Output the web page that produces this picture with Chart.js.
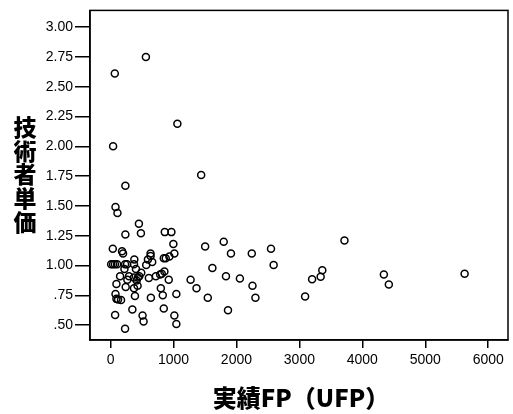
<!DOCTYPE html>
<html>
<head>
<meta charset="utf-8">
<script src="https://cdn.jsdelivr.net/npm/chart.js@4/dist/chart.umd.min.js"></script>
<style>
  body { margin: 0; background: #fff; }
</style>
</head>
<body>
<canvas id="scatter" width="513" height="414"></canvas>
<script>
const fpValues = [
  562, 68, 1062, 41, 1440, 236, 79, 110, 451, 236,
  483, 862, 967, 36, 183, 199, 998, 1014, 846, 877,
  935, 636, 636, 594, 662, 567, 378, 373, 10, 40,
  70, 105, 231, 262, 404, 488, 221, 152, 294, 373,
  436, 457, 268, 415, 430, 609, 720, 788, 814, 856,
  925, 94, 241, 373, 799, 79, 94, 120, 167, 388,
  641, 830, 1046, 1272, 1366, 1545, 1503, 1618, 1798, 1913,
  1834, 2055, 1866, 2244, 2255, 2302, 2549, 2591, 73, 347,
  509, 525, 846, 1014, 1046, 231, 3716, 3364, 3338, 3202,
  3091, 4342, 4421, 5625
];
const unitPrices = [
  2.75, 2.61, 2.19, 2.00, 1.76, 1.67, 1.49, 1.44, 1.35, 1.26,
  1.27, 1.28, 1.28, 1.14, 1.12, 1.10, 1.18, 1.10, 1.06, 1.06,
  1.075, 1.10, 1.08, 1.05, 1.03, 1.005, 1.05, 1.01, 1.01, 1.01,
  1.01, 1.01, 1.01, 1.01, 0.97, 0.94, 0.97, 0.91, 0.91, 0.90,
  0.90, 0.91, 0.88, 0.875, 0.83, 0.895, 0.91, 0.925, 0.93, 0.95,
  0.88, 0.845, 0.82, 0.81, 0.81, 0.76, 0.72, 0.715, 0.71, 0.745,
  0.73, 0.75, 0.76, 0.88, 0.81, 0.73, 1.16, 0.98, 1.20, 1.10,
  0.91, 0.89, 0.625, 1.10, 0.83, 0.73, 1.14, 1.005, 0.585, 0.63,
  0.58, 0.53, 0.64, 0.58, 0.51, 0.47, 1.21, 0.96, 0.905, 0.885,
  0.74, 0.925, 0.84, 0.93
];
const xTicks = [0, 1000, 2000, 3000, 4000, 5000, 6000];
const yTicks = [0.5, 0.75, 1.0, 1.25, 1.5, 1.75, 2.0, 2.25, 2.5, 2.75, 3.0];
const xTitle = '実績FP（UFP）';
const yTitle = '技術者単価';

const points = fpValues.map((v, i) => ({ x: v, y: unitPrices[i] }));

// box around the plot area plus the two axis titles
const frameAndTitles = {
  id: 'frameAndTitles',
  afterDraw(chart) {
    const { ctx, chartArea: a } = chart;
    ctx.save();
    ctx.strokeStyle = '#000';
    ctx.lineWidth = 1.5;
    ctx.strokeRect(a.left, a.top, a.right - a.left, a.bottom - a.top);

    ctx.fillStyle = '#000';
    ctx.textAlign = 'center';
    ctx.textBaseline = 'middle';
    ctx.font = '900 23px "Noto Sans CJK JP"';
    [...yTitle].forEach((ch, i) => ctx.fillText(ch, 25, 127 + i * 23.8));
    ctx.font = '900 24px "Noto Sans CJK JP"';
    ctx.fillText(xTitle, 301, 398);
    ctx.restore();
  }
};

new Chart(document.getElementById('scatter').getContext('2d'), {
  type: 'scatter',
  data: {
    datasets: [{
      data: points,
      pointRadius: 3.5,
      pointHoverRadius: 3.5,
      pointBorderWidth: 1.5,
      pointBorderColor: '#000',
      pointBackgroundColor: 'rgba(0,0,0,0)'
    }]
  },
  options: {
    responsive: false,
    animation: false,
    layout: { padding: { top: 8, right: 1, left: 0, bottom: 0 } },
    plugins: { legend: { display: false }, tooltip: { enabled: false } },
    scales: {
      x: {
        type: 'linear',
        min: -326,
        max: 6314,
        afterBuildTicks: s => { s.ticks = xTicks.map(v => ({ value: v })); },
        afterFit: s => { s.height = 74; },
        grid: { drawOnChartArea: false, drawTicks: true, tickLength: 8, color: '#000', lineWidth: 1.5 },
        border: { display: true, color: '#000', width: 1.5 },
        ticks: {
          color: '#000',
          padding: 4,
          maxRotation: 0,
          font: { family: '"Liberation Sans", Arial', size: 14 },
          callback: v => String(v)
        }
      },
      y: {
        type: 'linear',
        min: 0.375,
        max: 3.14,
        afterBuildTicks: s => { s.ticks = yTicks.map(v => ({ value: v })); },
        afterFit: s => { s.width = 90; },
        grid: { drawOnChartArea: false, drawTicks: true, tickLength: 15, color: '#000', lineWidth: 1.5 },
        border: { display: true, color: '#000', width: 1.5 },
        ticks: {
          color: '#000',
          padding: 2,
          font: { family: '"Liberation Sans", Arial', size: 14 },
          callback: v => {
            const s = Number(v).toFixed(2);
            return v < 1 ? s.replace(/^0/, '') : s;
          }
        }
      }
    }
  },
  plugins: [frameAndTitles]
});
</script>
</body>
</html>
